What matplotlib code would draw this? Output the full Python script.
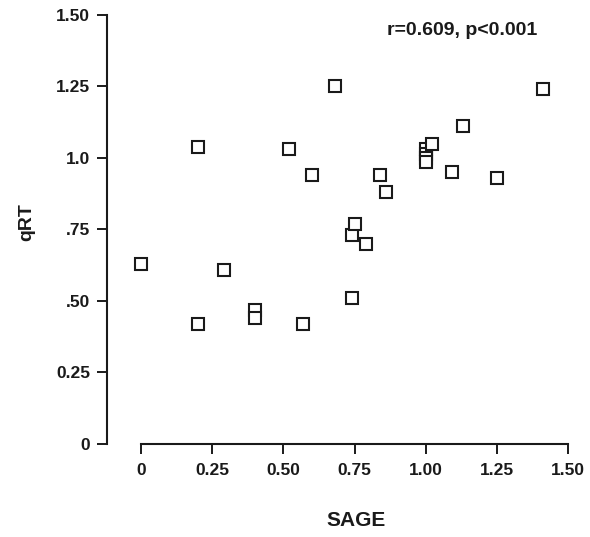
import numpy as np
import matplotlib.pyplot as plt

# SAGE vs qRT values
sage = [0.00, 0.20, 0.20, 0.29, 0.40, 0.40, 0.52, 0.57, 0.60, 0.68,
        0.74, 0.74, 0.75, 0.79, 0.84, 0.86, 1.00, 1.00, 1.00, 1.00,
        1.02, 1.09, 1.13, 1.25, 1.41]
qrt = [0.63, 1.04, 0.42, 0.61, 0.47, 0.44, 1.03, 0.42, 0.94, 1.25,
       0.51, 0.73, 0.77, 0.70, 0.94, 0.88, 1.03, 1.015, 1.00, 0.985,
       1.05, 0.95, 1.11, 0.93, 1.24]

xticks = [0, 0.25, 0.50, 0.75, 1.00, 1.25, 1.50]
xlabels = ["0", "0.25", "0.50", "0.75", "1.00", "1.25", "1.50"]
yticks = [0, 0.25, 0.50, 0.75, 1.0, 1.25, 1.50]
ylabels = ["0", "0.25", ".50", ".75", "1.0", "1.25", "1.50"]

plt.rcParams['font.family'] = ['Liberation Sans', 'DejaVu Sans']
ink = '#1a1a1a'

fig = plt.figure(figsize=(5.9, 5.37), dpi=100)
ax = fig.add_axes([0.181, 0.1732, 0.792, 0.799])

ax.plot(sage, qrt, linestyle='none', marker='s', markersize=8,
        markerfacecolor='white', markeredgecolor=ink, markeredgewidth=1.5,
        clip_on=False)

ax.set_xlim(-0.12, 1.52)
ax.set_ylim(0, 1.5)

for s in ['top', 'right']:
    ax.spines[s].set_visible(False)
ax.spines['left'].set_bounds(0, 1.5)
ax.spines['bottom'].set_bounds(0, 1.5)
for s in ['left', 'bottom']:
    ax.spines[s].set_linewidth(1.5)
    ax.spines[s].set_color(ink)

ax.set_xticks(xticks)
ax.set_xticklabels(xlabels)
ax.set_yticks(yticks)
ax.set_yticklabels(ylabels)
ax.tick_params(axis='both', length=7, width=1.4, color=ink, labelcolor=ink,
               labelsize=12.5)
ax.tick_params(axis='x', pad=7)
ax.tick_params(axis='y', pad=5)
for lab in ax.get_xticklabels() + ax.get_yticklabels():
    lab.set_fontweight('bold')

ax.set_xlabel("SAGE", fontsize=15, fontweight='bold', color=ink)
ax.xaxis.set_label_coords(0.533, -0.156)
ax.set_ylabel("qRT", fontsize=14, fontweight='bold', color=ink)
ax.yaxis.set_label_coords(-0.154, 0.517)

ax.text(1.126, 1.445, "r=0.609, p<0.001", fontsize=14, fontweight='bold',
        color=ink, ha='center', va='center')

fig.savefig("out.png", dpi=100)
